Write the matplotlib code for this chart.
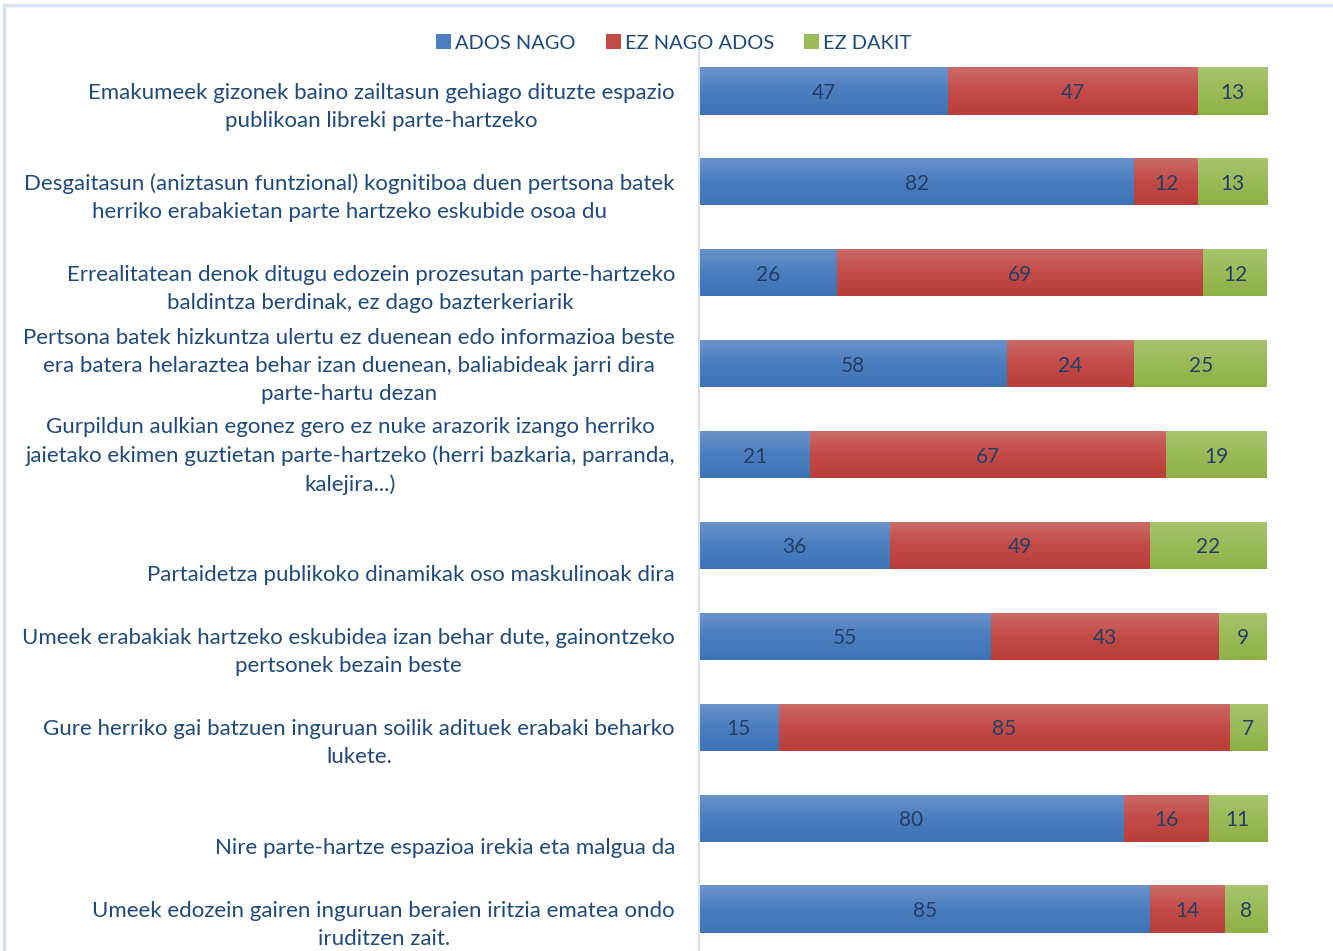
import matplotlib
matplotlib.use("Agg")
import matplotlib.pyplot as plt
import numpy as np
from matplotlib.patches import Rectangle
from matplotlib.colors import LinearSegmentedColormap
from matplotlib.transforms import blended_transform_factory, ScaledTranslation

categories = [
    "Emakumeek gizonek baino zailtasun gehiago dituzte espazio\npublikoan libreki parte-hartzeko",
    "Desgaitasun (aniztasun funtzional) kognitiboa duen pertsona batek\nherriko erabakietan parte hartzeko eskubide osoa du",
    "Errealitatean denok ditugu edozein prozesutan parte-hartzeko\nbaldintza berdinak, ez dago bazterkeriarik",
    "Pertsona batek hizkuntza ulertu ez duenean edo informazioa beste\nera batera helaraztea behar izan duenean, baliabideak jarri dira\nparte-hartu dezan",
    "Gurpildun aulkian egonez gero ez nuke arazorik izango herriko\njaietako ekimen guztietan parte-hartzeko (herri bazkaria, parranda,\nkalejira...)",
    "Partaidetza publikoko dinamikak oso maskulinoak dira",
    "Umeek erabakiak hartzeko eskubidea izan behar dute, gainontzeko\npertsonek bezain beste",
    "Gure herriko gai batzuen inguruan soilik adituek erabaki beharko\nlukete.",
    "Nire parte-hartze espazioa irekia eta malgua da",
    "Umeek edozein gairen inguruan beraien iritzia ematea ondo\niruditzen zait.",
]
series_names = ["ADOS NAGO", "EZ NAGO ADOS", "EZ DAKIT"]
ados = [47, 82, 26, 58, 21, 36, 55, 15, 80, 85]
ez_ados = [47, 12, 69, 24, 67, 49, 43, 85, 16, 14]
ez_dakit = [13, 13, 12, 25, 19, 22, 9, 7, 11, 8]

colors = ["#4A7EC0", "#C34B47", "#9BBB59"]
grad_top = ["#6A93C9", "#CB6B68", "#A8C46E"]
grad_bot = ["#3D72B4", "#B93E3A", "#8EB044"]
text_color = "#1F497D"
label_color = "#243F66"
font = "Lato"

W, H = 1333, 951
fig = plt.figure(figsize=(W / 100, H / 100), dpi=100)

# outer frame
fig.patches.append(Rectangle((4 / W, -0.1), 1.2, 1 - 5 / H + 0.1, transform=fig.transFigure,
                             fill=False, edgecolor="#D5E1F0", lw=2.5))

ax_left = 699 / W
ax_right = 1267 / W
n = len(categories)
spacing = 91
top_px = 91 - spacing / 2
bot_px = 909 + spacing / 2
ax = fig.add_axes([ax_left, 1 - bot_px / H, ax_right - ax_left, (bot_px - top_px) / H])

vals = np.array([ados, ez_ados, ez_dakit], dtype=float)
tot = vals.sum(axis=0)
pct = vals / tot * 100
y = np.arange(n)
left = np.zeros(n)
grad = np.linspace(0, 1, 64).reshape(-1, 1)
num_off = ScaledTranslation(0, -2 / 100, fig.dpi_scale_trans)
for k in range(3):
    bars = ax.barh(y, pct[k], left=left, height=0.52, color=colors[k], label=series_names[k])
    cmap = LinearSegmentedColormap.from_list(f"g{k}", [grad_top[k], colors[k], grad_bot[k]])
    for b in bars:
        x0, y0 = b.get_x(), b.get_y()
        im = ax.imshow(grad, cmap=cmap, aspect="auto", interpolation="bilinear",
                       extent=(x0, x0 + b.get_width(), y0 + b.get_height(), y0), zorder=1.5)
        im.set_clip_path(b)
    for i in range(n):
        ax.text(left[i] + pct[k][i] / 2, y[i], f"{int(vals[k][i])}", ha="center", va="center",
                fontsize=15, color=label_color, family=font, zorder=3,
                transform=ax.transData + num_off)
    left += pct[k]

ax.set_xlim(0, 100)
ax.set_ylim(n - 0.5, -0.5)
ax.set_xticks([])
ax.set_yticks([])
for s in ["top", "right", "bottom"]:
    ax.spines[s].set_visible(False)
ax.spines["left"].set_color("#D5E1F0")
ax.spines["left"].set_linewidth(1.5)

trans = blended_transform_factory(fig.transFigure, ax.transData)
for i, lab in enumerate(categories):
    off = ScaledTranslation(0, -40 / 100, fig.dpi_scale_trans)
    fig.text(675 / W, y[i], lab, transform=trans + off, ha="right", va="bottom",
             multialignment="center", fontsize=16, color=text_color, family=font,
             linespacing=1.50)

leg = fig.legend(loc="center", bbox_to_anchor=(674 / W, 1 - 43 / H), ncol=3, frameon=False,
                 prop={"family": font, "size": 14.4}, handlelength=0.75, handleheight=0.75,
                 handletextpad=0.2, columnspacing=1.5)
for t in leg.get_texts():
    t.set_color(text_color)

fig.savefig("out.png", dpi=100)
